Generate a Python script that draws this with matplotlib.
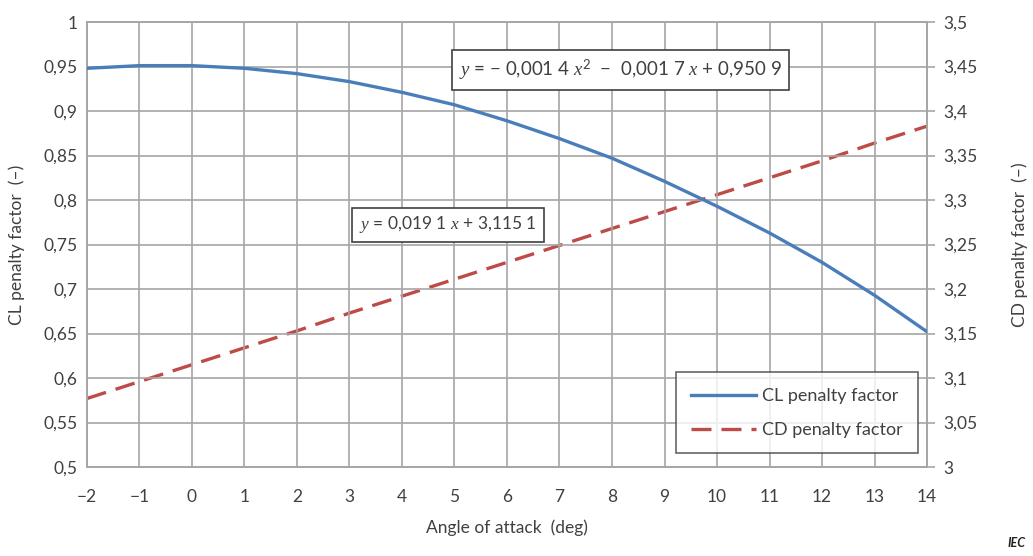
import matplotlib
matplotlib.use('Agg')
import matplotlib.pyplot as plt
from matplotlib.ticker import FuncFormatter

plt.rcParams['font.family'] = ['Lato', 'DejaVu Sans']
plt.rcParams['mathtext.fontset'] = 'custom'
plt.rcParams['mathtext.rm'] = 'Lato'
plt.rcParams['mathtext.it'] = 'Liberation Serif:italic'

# values
angle = [-2, -1, 0, 1, 2, 3, 4, 5, 6, 7, 8, 9, 10, 11, 12, 13, 14]
cl_penalty = [0.948, 0.951, 0.951, 0.948, 0.942, 0.933, 0.921, 0.907, 0.889,
              0.869, 0.847, 0.821, 0.793, 0.763, 0.730, 0.693, 0.652]
cd_penalty = [3.077, 3.096, 3.115, 3.134, 3.153, 3.173, 3.192, 3.211, 3.230,
              3.249, 3.268, 3.287, 3.306, 3.325, 3.344, 3.364, 3.383]

cl_ticks = [0.5, 0.55, 0.6, 0.65, 0.7, 0.75, 0.8, 0.85, 0.9, 0.95, 1.0]
cd_ticks = [3.0, 3.05, 3.1, 3.15, 3.2, 3.25, 3.3, 3.35, 3.4, 3.45, 3.5]

txt = '#404040'
grid = '#a6a6a6'
blue = '#4a7ebb'
red = '#be4b48'
MINUS = '\u2212'


def comma(v, pos=None):
	s = ('%.2f' % v).rstrip('0').rstrip('.')
	return s.replace('.', ',').replace('-', MINUS)


fig = plt.figure(figsize=(10.33, 5.56), dpi=100)
ax = fig.add_axes([0.0842, 0.160, 0.8132, 0.8004])
ax2 = ax.twinx()

ax.plot(angle, cl_penalty, color=blue, lw=2.4, label='CL penalty factor', zorder=3)
l2, = ax2.plot(angle, cd_penalty, color=red, lw=2.4, dashes=(6, 3), label='CD penalty factor')

ax.set_xlim(-2, 14)
ax.set_ylim(0.5, 1.0)
ax2.set_ylim(3.0, 3.5)
ax.set_xticks(angle)
ax.set_yticks(cl_ticks)
ax2.set_yticks(cd_ticks)
ax.xaxis.set_major_formatter(FuncFormatter(lambda v, p: ('%d' % v).replace('-', MINUS)))
ax.yaxis.set_major_formatter(FuncFormatter(comma))
ax2.yaxis.set_major_formatter(FuncFormatter(comma))

ax.grid(True, color=grid, lw=1.2)
ax.tick_params(axis='x', length=0, labelsize=12.5, colors=txt, pad=16)
ax.tick_params(axis='y', length=0, labelsize=12.5, colors=txt, pad=7)
ax2.tick_params(axis='y', length=6, width=1.2, color=grid, labelsize=12.5, labelcolor=txt, pad=6)
for a in (ax, ax2):
	for sp in a.spines.values():
		sp.set_color(grid)
		sp.set_linewidth(1.2)

ax.set_xlabel('Angle of attack  (deg)', fontsize=12.5, color=txt, labelpad=10)
ax.set_ylabel('CL penalty factor  (\u2013)', fontsize=12.5, color=txt, labelpad=13)
ax2.set_ylabel('CD penalty factor  (\u2013)', fontsize=12.5, color=txt, labelpad=24)

box = dict(boxstyle='square,pad=0.4', fc='white', ec='#404040', lw=1.2)
eq_cl = r'$y$ = ' + MINUS + r' 0,001 4 $x^2$  ' + MINUS + r'  0,001 7 $x$ + 0,950 9'
eq_cd = r'$y$ = 0,019 1 $x$ + 3,115 1'
ax.text(0.635, 0.892, eq_cl, transform=ax.transAxes, ha='center', va='center',
        fontsize=13.5, color=txt, bbox=box, zorder=5)
ax.text(0.430, 0.544, eq_cd, transform=ax.transAxes, ha='center', va='center',
        fontsize=12.5, color=txt, bbox=box, zorder=5)

h1, lab1 = ax.get_legend_handles_labels()
leg = ax.legend(h1 + [l2], lab1 + [l2.get_label()], loc='lower right',
                bbox_to_anchor=(0.989, 0.031), borderaxespad=0, fontsize=13,
                frameon=True, fancybox=False, edgecolor='#404040', handlelength=3.6,
                borderpad=0.85, labelspacing=1.0, handletextpad=0.3)
leg.get_frame().set_linewidth(1.2)
for t in leg.get_texts():
	t.set_color(txt)
leg.set_zorder(6)
ax.set_zorder(ax2.get_zorder() + 1)
ax.patch.set_visible(False)

fig.text(0.993, 0.012, 'IEC', ha='right', va='bottom', fontsize=9, fontweight='bold',
         fontstyle='italic', color='#222222')

fig.savefig('out.png', dpi=100)
